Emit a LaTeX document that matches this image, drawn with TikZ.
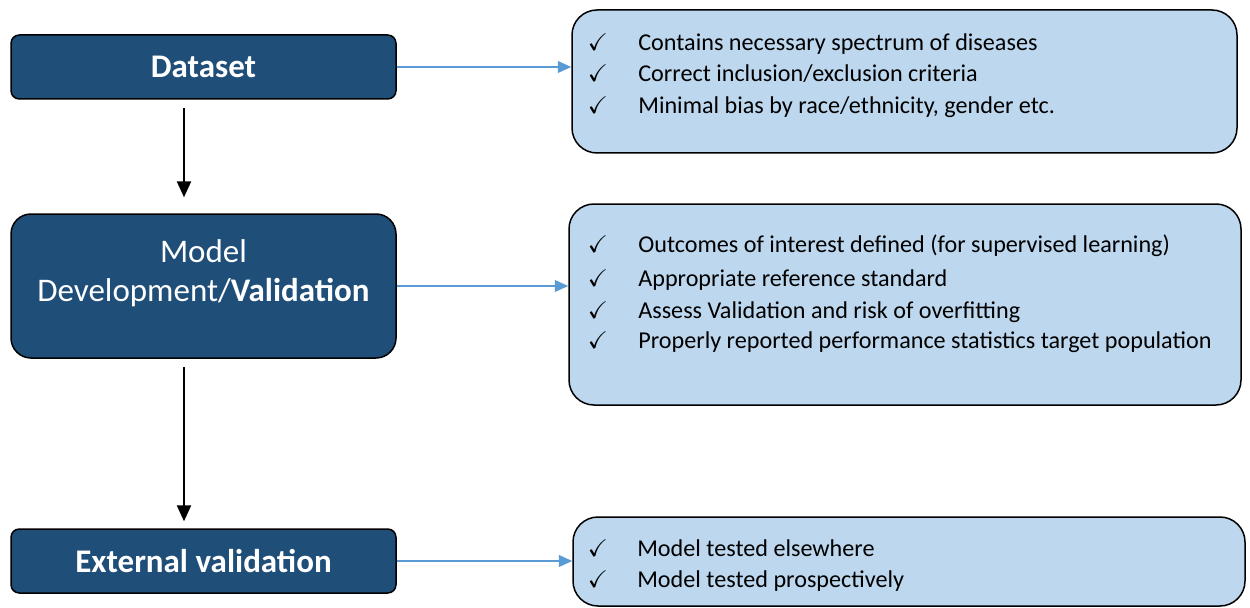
\documentclass[tikz,border=0pt]{standalone}
\usepackage{fontspec,amssymb}
\setmainfont{Carlito}
\usetikzlibrary{positioning,arrows.meta,calc}
\definecolor{cnavy}{HTML}{1F4E79}
\definecolor{csky}{HTML}{BDD7EE}
\definecolor{clink}{HTML}{5B9BD5}

\begin{document}
\begin{tikzpicture}[x=0.6pt,y=-0.6pt,
  stage/.style={draw=black, line width=0.9pt, fill=cnavy, text=white,
    minimum width=231pt, font=\fontsize{19.8}{23.4}\selectfont},
  info/.style={draw=black, line width=0.9pt, fill=csky, rounded corners=15pt},
  chk/.style={inner sep=0pt, anchor=base, font=\fontsize{14.5}{17}\selectfont},
  itm/.style={inner sep=0pt, anchor=base west, font=\fontsize{14.5}{17}\selectfont},
  link/.style={clink, line width=0.9pt, -{Triangle[length=8pt, width=7pt]}},
  down/.style={black, line width=0.9pt, -{Triangle[length=9.5pt, width=8.5pt]}}]

\useasboundingbox (0,0) rectangle (1250,608);

% left column
\node[stage, rounded corners=5pt, minimum height=38.4pt] (data) at (203.5,67)
  {\textbf{Dataset}};
\node[stage, rounded corners=12pt, minimum height=86.4pt] (model) at (203.5,286) {};
\node[align=center, text=white, font=\fontsize{19.8}{23.4}\selectfont] (mtext) at (203.5,273)
  {Model\\ Development/\textbf{Validation}};
\node[stage, rounded corners=5pt, minimum height=38.4pt] (ext) at (203.5,561)
  {\textbf{External validation}};

% right column
\node[info, minimum width=399pt, minimum height=85.8pt] (info1) at (904.5,81.5) {};
\node[info, minimum width=403.2pt, minimum height=120.6pt] (info2) at (905,304.5) {};
\node[info, minimum width=403.2pt, minimum height=53.4pt] (info3) at (909,561.5) {};

\node[chk] (c11) at (598,51) {$\checkmark$};
\node[itm] (t11) at (638,51) {Contains necessary spectrum of diseases};
\node[chk] (c12) at (598,82) {$\checkmark$};
\node[itm] (t12) at (638,82) {Correct inclusion/exclusion criteria};
\node[chk] (c13) at (598,114) {$\checkmark$};
\node[itm] (t13) at (638,114) {Minimal bias by race/ethnicity, gender etc.};

\node[chk] (c21) at (598,253) {$\checkmark$};
\node[itm] (t21) at (638,253) {Outcomes of interest defined (for supervised learning)};
\node[chk] (c22) at (598,286) {$\checkmark$};
\node[itm] (t22) at (638,286) {Appropriate reference standard};
\node[chk] (c23) at (598,318) {$\checkmark$};
\node[itm] (t23) at (638,318) {Assess Validation and risk of overfitting};
\node[chk] (c24) at (598,349) {$\checkmark$};
\node[itm] (t24) at (638,349) {Properly reported performance statistics target population};

\node[chk] (c31) at (598,556) {$\checkmark$};
\node[itm] (t31) at (637,556) {Model tested elsewhere};
\node[chk] (c32) at (598,587) {$\checkmark$};
\node[itm] (t32) at (637,587) {Model tested prospectively};

% connectors
\draw[link] (data.east) -- (data.east -| info1.west);
\draw[link] (model.east) -- (model.east -| info2.west);
\draw[link] (ext.east) -- (ext.east -| info3.west);
\draw[down] ($(data.south)+(-19.5,8)$) -- ($(model.north)+(-19.5,-16)$);
\draw[down] ($(model.south)+(-19.5,8)$) -- ($(ext.north)+(-19.5,-7)$);
\end{tikzpicture}
\end{document}
